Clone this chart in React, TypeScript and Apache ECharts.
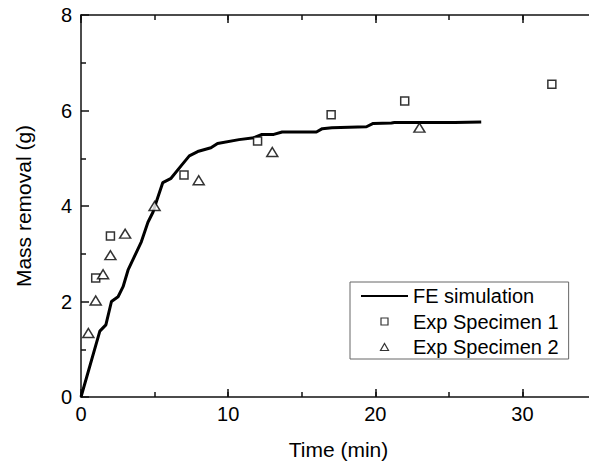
import React, { useEffect, useRef } from "react";
import * as echarts from "echarts";

const feTime = [0, 1.28, 1.69, 2.07, 2.52, 2.86, 3.2, 4.1, 4.55, 4.89, 5.11, 5.56, 6.12, 6.8, 7.36, 7.93, 8.83, 9.28, 10.74, 11.76, 12.3, 13.1, 13.67, 16.0, 16.4, 17.05, 19.4, 19.86, 21.1, 21.3, 25.4, 27.2];
const feMass = [0, 1.38, 1.51, 2.0, 2.1, 2.31, 2.66, 3.25, 3.66, 3.87, 4.08, 4.49, 4.58, 4.84, 5.05, 5.14, 5.22, 5.31, 5.39, 5.43, 5.5, 5.5, 5.55, 5.55, 5.62, 5.64, 5.66, 5.73, 5.74, 5.75, 5.75, 5.76];

const spec1Time = [1, 2, 7, 12, 17, 22, 32];
const spec1Mass = [2.49, 3.37, 4.65, 5.36, 5.91, 6.2, 6.55];

const spec2Time = [0.5, 1, 1.5, 2, 3, 5, 8, 13, 23];
const spec2Mass = [1.34, 2.02, 2.57, 2.97, 3.42, 4.0, 4.54, 5.13, 5.64];

const xTicks = [0, 10, 20, 30];
const yTicks = [0, 2, 4, 6, 8];

const FONT = "'Liberation Sans', Arial, sans-serif";
const AX = "#111";

// legend icons drawn inside the full 47x8 icon box (M anchors fix the box)
const SQUARE_ICON = "path://M0 0M47 8M20 0.5L27 0.5L27 7.5L20 7.5Z";
const TRIANGLE_ICON = "path://M0 0M47 8M19.5 7.5L27.5 7.5L23.5 0.5Z";

export default function App() {
  const ref = useRef<HTMLDivElement>(null);
  useEffect(() => {
    if (!ref.current) return;
    const chart = echarts.init(ref.current, undefined, { renderer: "svg" });
    const zip = (a: number[], b: number[]) => a.map((v, i) => [v, b[i]]);
    const baseX = {
      type: "value" as const,
      min: 0,
      max: 35,
      splitLine: { show: false },
    };
    const hollow = { color: "#fff", borderColor: "#000", borderWidth: 1.2 };
    chart.setOption({
      animation: false,
      backgroundColor: "#fff",
      grid: { left: 81, right: 0, top: 15, height: 384.5 },
      legend: {
        left: 350,
        top: 282,
        orient: "vertical",
        borderColor: "#666",
        borderWidth: 1,
        padding: [4, 10, 2, 10],
        itemWidth: 47,
        itemHeight: 8,
        itemGap: 5.5,
        selectedMode: false,
        textStyle: { fontSize: 20, color: "#000", fontFamily: FONT, lineHeight: 20 },
        data: [
          { name: "FE simulation", itemStyle: { color: "transparent", borderWidth: 0, opacity: 0 } },
          { name: "Exp Specimen 1", icon: SQUARE_ICON, itemStyle: hollow },
          { name: "Exp Specimen 2", icon: TRIANGLE_ICON, itemStyle: hollow },
        ],
      },
      xAxis: [
        {
          ...baseX,
          position: "bottom",
          interval: 10,
          axisLine: { lineStyle: { color: AX, width: 1.5 } },
          axisTick: { inside: true, length: 8, lineStyle: { color: AX, width: 1.5 } },
          axisLabel: {
            fontSize: 20,
            color: "#000",
            fontFamily: FONT,
            margin: 7,
            formatter: (v: number) => (xTicks.includes(v) ? String(v) : ""),
          },
          name: "Time (min)",
          nameLocation: "middle",
          nameGap: 42,
          nameTextStyle: { fontSize: 21, color: "#000", fontFamily: FONT },
        },
        {
          ...baseX,
          position: "bottom",
          interval: 5,
          axisLine: { show: false },
          axisTick: { inside: true, length: 5, lineStyle: { color: AX, width: 1.5 } },
          axisLabel: { show: false },
        },
        {
          ...baseX,
          position: "top",
          interval: 10,
          axisLine: { lineStyle: { color: AX, width: 1.5 } },
          axisTick: { inside: true, length: 8, lineStyle: { color: AX, width: 1.5 } },
          axisLabel: { show: false },
        },
        {
          ...baseX,
          position: "top",
          interval: 5,
          axisLine: { show: false },
          axisTick: { inside: true, length: 5, lineStyle: { color: AX, width: 1.5 } },
          axisLabel: { show: false },
        },
      ],
      yAxis: [
        {
          type: "value",
          min: 0,
          max: 8,
          interval: 2,
          position: "left",
          splitLine: { show: false },
          axisLine: { show: true, lineStyle: { color: AX, width: 1.5 } },
          axisTick: { show: true, inside: true, length: 8, lineStyle: { color: AX, width: 1.5 } },
          minorTick: { show: true, splitNumber: 2, length: 5, lineStyle: { color: AX, width: 1.5 } },
          axisLabel: {
            fontSize: 20,
            color: "#000",
            fontFamily: FONT,
            margin: 9,
            formatter: (v: number) => (yTicks.includes(v) ? String(v) : ""),
          },
          name: "Mass removal (g)",
          nameLocation: "middle",
          nameGap: 47,
          nameTextStyle: { fontSize: 21, color: "#000", fontFamily: FONT },
        },
      ],
      series: [
        {
          name: "FE simulation",
          type: "line",
          xAxisIndex: 0,
          data: zip(feTime, feMass),
          symbol: "none",
          showSymbol: false,
          lineStyle: { color: "#000", width: 3 },
          itemStyle: { color: "#000" },
          z: 2,
        },
        {
          name: "Exp Specimen 1",
          type: "scatter",
          xAxisIndex: 0,
          data: zip(spec1Time, spec1Mass),
          symbol: "rect",
          symbolSize: 8,
          itemStyle: { color: "#fff", borderColor: "#000", borderWidth: 1.5 },
          z: 3,
        },
        {
          name: "Exp Specimen 2",
          type: "scatter",
          xAxisIndex: 0,
          data: zip(spec2Time, spec2Mass),
          symbol: "triangle",
          symbolSize: [11, 9],
          itemStyle: { color: "#fff", borderColor: "#000", borderWidth: 1.5 },
          z: 3,
        },
      ],
    });
    return () => chart.dispose();
  }, []);
  return (
    <div style={{ position: "fixed", left: 0, top: 0, width: 589, height: 465, overflow: "hidden", background: "#fff" }}>
      <div ref={ref} style={{ width: 599, height: 465 }} />
    </div>
  );
}
